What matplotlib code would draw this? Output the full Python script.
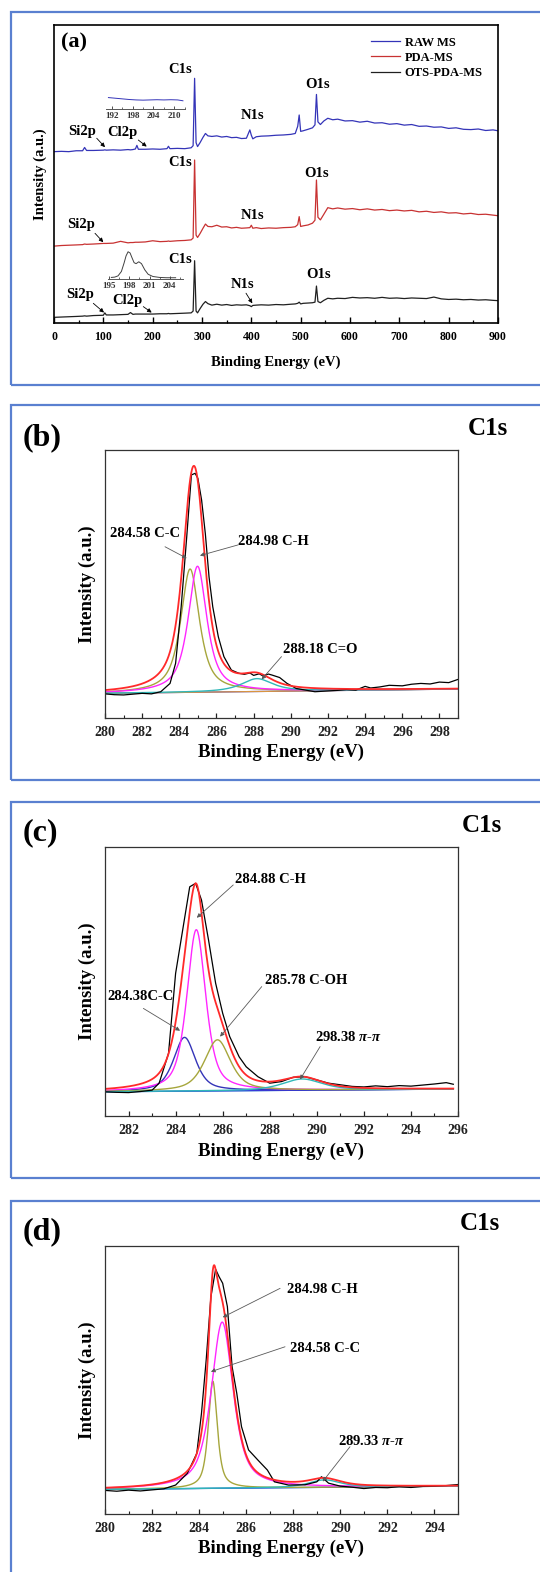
import numpy as np
import matplotlib
matplotlib.use('Agg')
import matplotlib.pyplot as plt
from matplotlib.patches import Rectangle
from matplotlib.ticker import MultipleLocator

plt.rcParams['font.family'] = ['Liberation Serif', 'DejaVu Serif']
plt.rcParams['font.weight'] = 'bold'
plt.rcParams['mathtext.fontset'] = 'custom'
plt.rcParams['mathtext.rm'] = 'Liberation Serif:bold'
plt.rcParams['mathtext.it'] = 'Liberation Serif:italic:bold'

W, H = 540, 1572

# ---------------------------------------------------------------- survey data
SURVEY_EV = [
    0, 15, 30, 45, 58, 62, 66, 80, 100, 103,
    106, 120, 135, 150, 155, 160, 165, 168, 171, 185,
    200, 215, 229, 232, 235, 250, 265, 278, 282, 285,
    288, 291, 296, 302, 307, 312, 320, 330, 340, 350,
    360, 370, 380, 390, 397, 400, 403, 410, 420, 435,
    450, 465, 480, 489, 494, 497, 500, 505, 515, 524,
    529, 532, 535, 540, 547, 555, 565, 575, 590, 605,
    620, 635, 650, 665, 680, 695, 710, 725, 740, 755,
    770, 785, 800, 815, 830, 845, 860, 875, 890, 900]

RAW_MS = [
    57.5, 57.6, 57.5, 57.8, 57.8, 58.9, 57.9, 57.9, 58.0, 58.1,
    58.0, 58.1, 58.0, 58.2, 58.1, 58.2, 58.4, 59.6, 58.3, 58.3,
    58.4, 58.3, 58.5, 59.3, 58.5, 58.6, 58.5, 58.8, 59.5, 82.1,
    60.5, 59.2, 60.5, 62.3, 63.6, 62.8, 62.6, 62.8, 62.4, 62.6,
    62.2, 62.3, 61.9, 62.0, 64.8, 63.0, 61.8, 62.5, 62.7, 62.8,
    63.0, 63.1, 63.3, 63.6, 66.0, 69.8, 64.3, 64.5, 65.0, 65.5,
    66.5, 76.7, 67.5, 66.6, 67.8, 68.7, 68.2, 68.4, 67.8, 67.9,
    67.4, 67.7, 67.1, 67.2, 66.7, 66.9, 66.4, 66.6, 66.0, 66.1,
    65.7, 65.8, 65.3, 65.5, 65.0, 64.9, 65.1, 64.6, 64.8, 64.5]

PDA_MS = [
    25.8, 26.0, 26.1, 26.2, 26.3, 26.5, 26.4, 26.5, 26.7, 26.7,
    26.7, 26.8, 27.4, 26.9, 27.0, 27.0, 27.1, 27.1, 27.1, 27.2,
    27.6, 27.3, 27.4, 27.5, 27.4, 27.6, 27.7, 27.9, 28.5, 54.7,
    29.5, 28.7, 30.0, 31.8, 33.2, 32.4, 32.3, 32.8, 32.2, 32.3,
    31.9, 32.1, 31.8, 31.9, 32.0, 32.8, 31.8, 32.0, 31.7, 31.9,
    31.8, 32.0, 32.1, 32.3, 33.0, 35.7, 32.4, 32.6, 32.9, 33.5,
    34.5, 48.0, 35.5, 34.6, 36.5, 38.7, 38.3, 38.6, 38.2, 38.4,
    38.0, 38.3, 37.9, 38.1, 37.7, 37.9, 37.6, 37.8, 37.3, 37.5,
    37.1, 37.3, 36.9, 37.0, 36.6, 36.8, 36.4, 36.5, 36.2, 36.0]

OTS_PDA_MS = [
    1.9, 2.0, 2.1, 2.2, 2.3, 2.4, 2.3, 2.5, 2.6, 3.4,
    2.7, 2.7, 2.8, 2.9, 3.5, 2.9, 3.0, 3.0, 3.0, 3.0,
    3.0, 3.1, 3.1, 3.2, 3.1, 3.2, 3.3, 3.4, 4.0, 20.9,
    4.0, 3.4, 4.8, 6.3, 7.2, 6.5, 6.0, 6.3, 6.0, 6.2,
    5.9, 6.1, 6.0, 6.1, 5.8, 5.5, 5.9, 6.0, 6.1, 6.0,
    6.2, 6.1, 6.3, 6.4, 6.6, 7.0, 6.4, 6.6, 6.7, 6.8,
    7.0, 12.4, 7.2, 6.8, 7.6, 8.3, 8.1, 8.3, 8.2, 8.6,
    8.4, 8.5, 8.3, 8.6, 8.3, 8.4, 8.2, 8.4, 8.3, 8.2,
    8.7, 8.1, 7.9, 8.0, 7.8, 7.9, 7.7, 7.8, 7.6, 7.5]

# Cl 2p insets
CL_RAW_EV = [191.0, 193.0, 195.0, 197.0, 199.0, 201.0, 203.0, 205.0,
             207.0, 209.0, 211.0, 212.5]
CL_RAW_I = [0.55, 0.52, 0.49, 0.46, 0.44, 0.43, 0.44, 0.45,
            0.44, 0.45, 0.44, 0.40]
CL_OTS_EV = [195.3, 195.8, 196.3, 196.8, 197.2, 197.5, 197.8, 198.1,
             198.4, 198.7, 199.0, 199.4, 199.8, 200.3, 200.8, 201.5,
             202.5, 203.5, 204.9]
CL_OTS_I = [0.06, 0.07, 0.11, 0.25, 0.52, 0.75, 0.88, 0.84,
            0.68, 0.53, 0.50, 0.56, 0.50, 0.30, 0.16, 0.09,
            0.06, 0.05, 0.05]

# ------------------------------------------------------------ C1s, panel (b)
B_EV = [280, 280.5, 281, 281.5, 282, 282.5, 283, 283.5, 283.8, 284.1,
        284.4, 284.65, 284.85, 285.0, 285.2, 285.4, 285.6, 285.8, 286.1,
        286.4, 286.8, 287.2, 287.5, 287.8, 288.0, 288.3, 288.5, 288.8,
        289.0, 289.4, 289.8, 290.3, 290.8, 291.3, 292, 292.5, 293, 293.5,
        294, 294.3, 294.8, 295.3, 296, 296.5, 297, 297.5, 298, 298.5, 299]
B_RAW = [9.0, 8.7, 8.6, 8.9, 9.2, 9.0, 9.8, 12.9, 20.4, 41.5,
         67.7, 90.7, 91.3, 89.4, 81.3, 68.8, 52.6, 41.5, 30.3, 22.9,
         17.9, 16.7, 16.3, 16.8, 15.9, 16.5, 15.7, 16.4, 16.0, 15.1,
         12.9, 11.0, 10.4, 9.8, 10.1, 10.3, 10.6, 10.4, 11.8, 11.2,
         11.6, 12.2, 12.0, 12.6, 12.9, 12.7, 13.4, 13.2, 14.4]
B_BG = [9.2, 10.8]
B_CENTER = [284.58, 284.98, 288.18]
B_HEIGHT = [46.0, 47.0, 4.8]
B_FWHM = [1.2, 1.2, 2.0]

# ------------------------------------------------------------ C1s, panel (c)
C_EV = [281, 281.5, 282, 282.5, 283, 283.3, 283.7, 284.0, 284.3, 284.6,
        284.85, 285.1, 285.4, 285.7, 286.0, 286.3, 286.7, 287.0, 287.5,
        288.0, 288.5, 289.0, 289.5, 290.0, 290.5, 291.0, 291.5, 292,
        292.5, 293, 293.5, 294, 294.5, 295, 295.5, 295.8]
C_RAW = [9.0, 8.8, 8.7, 9.1, 9.6, 12.2, 23.3, 53.0, 69.1, 85.2,
         86.5, 80.3, 65.4, 49.4, 38.2, 29.5, 22.0, 18.3, 14.6, 12.2,
         12.8, 14.4, 14.6, 13.4, 12.2, 11.6, 11.0, 10.8, 11.2, 10.9,
         11.3, 11.1, 11.5, 11.9, 12.4, 11.8]
C_BG = [9.0, 10.0]
C_CENTER = [284.38, 284.88, 285.78, 289.38]
C_HEIGHT = [20.0, 60.0, 19.0, 4.2]
C_FWHM = [1.1, 0.95, 1.3, 2.0]

# ------------------------------------------------------------ C1s, panel (d)
D_EV = [280, 280.5, 281, 281.5, 282, 282.5, 283, 283.5, 283.9, 284.1,
        284.3, 284.5, 284.7, 284.85, 285.0, 285.2, 285.4, 285.6, 285.8,
        286.1, 286.5, 286.9, 287.2, 287.8, 288.5, 289.0, 289.2, 289.5,
        290, 290.5, 291, 291.5, 292, 292.5, 293, 293.5, 294, 294.5, 295]
D_RAW = [8.8, 8.5, 8.9, 8.6, 9.0, 9.4, 10.8, 15.2, 22.6, 37.6,
         57.5, 81.0, 91.3, 88.5, 86.1, 77.4, 55.0, 45.0, 32.6, 23.9,
         20.1, 16.4, 12.0, 10.8, 10.9, 12.0, 13.9, 11.5, 10.4, 10.0,
         9.5, 9.9, 9.8, 10.2, 9.9, 10.3, 10.4, 10.6, 11.0]
D_BG = [9.2, 10.4]
D_CENTER = [284.58, 284.98, 289.33]
D_HEIGHT = [40.0, 62.0, 2.8]
D_FWHM = [0.45, 1.1, 1.6]

RED = '#ff2a2a'
MAGENTA = '#ff26ff'
OLIVE = '#a6a63c'
TEAL = '#30b8b8'
NAVY = '#3434b8'
BASE_BLUE = '#3b3be6'
ORANGE = '#d99540'
ARROW = dict(arrowstyle='-|>', color='0.35', lw=0.6, mutation_scale=6,
             shrinkA=0, shrinkB=0)


def px_axes(fig, left, top, right, bottom):
    return fig.add_axes([left / W, 1 - bottom / H,
                         (right - left) / W, (bottom - top) / H])


def pseudo_voigt(x, center, height, fwhm, eta=0.7):
    u = 4.0 * ((x - center) / fwhm) ** 2
    return height * (eta / (1.0 + u) + (1.0 - eta) * np.exp(-np.log(2) * u))


def style_fit_axes(ax, xmin, xmax, ymax=100):
    ax.set_xlim(xmin, xmax)
    ax.set_ylim(0, ymax)
    ax.xaxis.set_major_locator(MultipleLocator(2))
    ax.xaxis.set_minor_locator(MultipleLocator(1))
    ax.tick_params(axis='x', which='both', direction='in', labelsize=10,
                   pad=6, colors='#222222')
    ax.tick_params(axis='x', which='major', length=3.5, width=0.9)
    ax.tick_params(axis='x', which='minor', length=2, width=0.8)
    ax.tick_params(axis='y', left=False, labelleft=False)
    for sp in ax.spines.values():
        sp.set_color('#333333')
        sp.set_linewidth(0.9)
    ax.set_xlabel('Binding Energy (eV)', fontsize=13.5, fontweight='bold')
    ax.set_ylabel('Intensity (a.u.)', fontsize=13.5, fontweight='bold')
    ax.xaxis.set_label_coords(0.5, -0.13)
    ax.xaxis.label.set_va('center')
    ax.yaxis.set_label_coords(-0.05, 0.5)
    ax.yaxis.label.set_va('center')


def draw_fit(ax, ev, raw, bg, centers, heights, fwhms, colors, eta,
             bg_colors):
    x = np.linspace(ev[0], ev[-1], 800)
    base = np.interp(x, [ev[0], ev[-1]], bg)
    comps = [pseudo_voigt(x, c, h, w, eta)
             for c, h, w in zip(centers, heights, fwhms)]
    for col in bg_colors:
        ax.plot(x, base, color=col, lw=0.9)
    for comp, col in zip(comps, colors):
        ax.plot(x, base + comp, color=col, lw=1.0)
    ax.plot(ev, raw, color='black', lw=0.9)
    ax.plot(x, base + np.sum(comps, axis=0), color=RED, lw=1.3)


def panel_box(fig, top, bottom):
    fig.add_artist(Rectangle((11 / W, 1 - bottom / H), (560 - 11) / W,
                             (bottom - top) / H, transform=fig.transFigure,
                             fill=False, ec='#5a80d0', lw=1.6))


def main():
    fig = plt.figure(figsize=(W / 100, H / 100), dpi=100)

    for top, bottom in [(12, 385), (405, 780), (802, 1178), (1201, 1600)]:
        panel_box(fig, top, bottom)

    # ------------------------------------------------------------ survey
    ax = px_axes(fig, 54, 25, 498, 323)
    ax.plot(SURVEY_EV, RAW_MS, color=NAVY, lw=0.9, label='RAW MS')
    ax.plot(SURVEY_EV, PDA_MS, color='#c83232', lw=0.9, label='PDA-MS')
    ax.plot(SURVEY_EV, OTS_PDA_MS, color='#202020', lw=0.9,
            label='OTS-PDA-MS')
    ax.set_xlim(0, 900)
    ax.set_ylim(0, 100)
    ax.xaxis.set_major_locator(MultipleLocator(100))
    ax.xaxis.set_minor_locator(MultipleLocator(50))
    ax.tick_params(axis='x', which='both', direction='in', labelsize=8.5,
                   pad=6)
    ax.tick_params(axis='x', which='major', length=4, width=1.0)
    ax.tick_params(axis='x', which='minor', length=2.5, width=0.9)
    ax.tick_params(axis='y', left=False, labelleft=False)
    for sp in ax.spines.values():
        sp.set_linewidth(1.2)
    ax.set_xlabel('Binding Energy (eV)', fontsize=10.5, fontweight='bold')
    ax.set_ylabel('Intensity (a.u.)', fontsize=10.5, fontweight='bold')
    ax.xaxis.set_label_coords(0.5, -0.133)
    ax.xaxis.label.set_va('center')
    ax.yaxis.set_label_coords(-0.03, 0.5)
    ax.yaxis.label.set_va('center')
    ax.legend(loc='upper right', bbox_to_anchor=(0.985, 0.99),
              frameon=False, fontsize=9, handlelength=2.3,
              handletextpad=0.4, labelspacing=0.25, borderpad=0.2)
    ax.text(0.015, 0.94, '(a)', transform=ax.transAxes, fontsize=16,
            va='center', ha='left')

    peak_labels = [
        ('C1s', 255, 84.9), ('O1s', 534, 80.1), ('N1s', 402, 69.5),
        ('C1s', 255, 53.8), ('O1s', 532, 50.2), ('N1s', 402, 36.2),
        ('C1s', 255, 21.4), ('O1s', 536, 16.4)]
    for txt, xv, yv in peak_labels:
        ax.text(xv, yv, txt, fontsize=10.5, ha='center', va='center')

    arrow_labels = [
        ('Si2p', 58, 64.2, (86.6, 62.0), (103.4, 59.0)),
        ('Cl2p', 139, 63.9, (170.9, 61.4), (187.9, 59.2)),
        ('Si2p', 54, 33.2, (83.1, 30.1), (99.9, 27.1)),
        ('N1s', 382, 12.8, (389.2, 10.0), (402.0, 6.6)),
        ('Si2p', 53, 9.7, (79.7, 6.6), (101.4, 3.5)),
        ('Cl2p', 149, 7.7, (181.0, 5.5), (198.0, 3.5))]
    for txt, xv, yv, tail, tip in arrow_labels:
        ax.text(xv, yv, txt, fontsize=10.5, ha='center', va='center')
        ax.annotate('', xy=tip, xytext=tail,
                    arrowprops=dict(arrowstyle='-|>', color='black',
                                    lw=0.6, mutation_scale=6,
                                    shrinkA=0, shrinkB=0))

    # Cl 2p insets
    for (left, right, top, bottom, ev, inten, lo, hi, step, col) in [
            (106, 185, 88, 109.3, CL_RAW_EV, CL_RAW_I, 190.3, 213.1, 6,
             NAVY),
            (108, 183, 248, 279.3, CL_OTS_EV, CL_OTS_I, 194.8, 206.0, 3,
             '#404040')]:
        ins = px_axes(fig, left, top, right, bottom)
        ins.plot(ev, inten, color=col, lw=0.7)
        ins.set_xlim(lo, hi)
        ins.set_ylim(0, 1)
        ins.patch.set_alpha(0)
        for name in ('top', 'left', 'right'):
            ins.spines[name].set_visible(False)
        ins.spines['bottom'].set_color('#555555')
        ins.spines['bottom'].set_linewidth(0.7)
        ins.xaxis.set_major_locator(MultipleLocator(step))
        ins.xaxis.set_minor_locator(MultipleLocator(step / 2))
        ins.tick_params(axis='x', which='both', direction='in',
                        labelsize=6.5, pad=2, colors='#333333')
        ins.tick_params(axis='x', which='major', length=2, width=0.6)
        ins.tick_params(axis='x', which='minor', length=1.2, width=0.5)
        ins.tick_params(axis='y', left=False, labelleft=False)

    # ------------------------------------------------------------ panel (b)
    ax = px_axes(fig, 105, 450, 458, 718)
    draw_fit(ax, B_EV, B_RAW, B_BG, B_CENTER, B_HEIGHT, B_FWHM,
             [OLIVE, MAGENTA, TEAL], 0.8, [BASE_BLUE, ORANGE])
    style_fit_axes(ax, 280, 299)
    notes = [('284.58 C-C', 280.27, 68.7, (283.23, 63.9), (284.4, 59.6)),
             ('284.98 C-H', 287.17, 65.8, (287.17, 64.6), (285.11, 60.6)),
             ('288.18 C=O', 289.6, 25.7, (289.5, 22.9), (288.43, 14.4))]
    for txt, xv, yv, tail, tip in notes:
        ax.text(xv, yv, txt, fontsize=10.5, ha='left', va='center')
        ax.annotate('', xy=tip, xytext=tail, arrowprops=ARROW)
    fig.text(22.7 / W, 1 - 438 / H, '(b)', fontsize=23, va='center')
    fig.text(508 / W, 1 - 429 / H, 'C1s', fontsize=18, va='center',
             ha='right')

    # ------------------------------------------------------------ panel (c)
    ax = px_axes(fig, 105, 847, 458, 1116)
    draw_fit(ax, C_EV, C_RAW, C_BG, C_CENTER, C_HEIGHT, C_FWHM,
             [NAVY, MAGENTA, OLIVE, TEAL], 0.6, [TEAL, BASE_BLUE])
    style_fit_axes(ax, 281, 296)
    notes = [('284.88 C-H', 286.52, 88.0, (286.45, 85.9), (284.9, 73.7)),
             ('285.78 C-OH', 287.8, 50.3, (287.66, 48.1), (285.89, 29.5)),
             ('284.38C-C', 281.1, 44.3, (282.63, 40.0), (284.19, 31.7)),
             (r'298.38 $\pi$-$\pi$', 289.92, 29.3, (290.14, 25.8),
              (289.29, 13.6))]
    for txt, xv, yv, tail, tip in notes:
        ax.text(xv, yv, txt, fontsize=10.5, ha='left', va='center')
        ax.annotate('', xy=tip, xytext=tail, arrowprops=ARROW)
    fig.text(22.7 / W, 1 - 833 / H, '(c)', fontsize=23, va='center')
    fig.text(502 / W, 1 - 826 / H, 'C1s', fontsize=18, va='center',
             ha='right')

    # ------------------------------------------------------------ panel (d)
    ax = px_axes(fig, 105, 1246, 458, 1514)
    draw_fit(ax, D_EV, D_RAW, D_BG, D_CENTER, D_HEIGHT, D_FWHM,
             [OLIVE, MAGENTA, TEAL], 0.7, [TEAL, BASE_BLUE])
    style_fit_axes(ax, 280, 295)
    notes = [('284.98 C-H', 287.72, 83.8, (287.44, 84.2), (285.0, 73.4)),
             ('284.58 C-C', 287.86, 61.8, (287.65, 62.4), (284.5, 53.1)),
             (r'289.33 $\pi$-$\pi$', 289.92, 27.2, (290.41, 25.1),
              (289.25, 12.1))]
    for txt, xv, yv, tail, tip in notes:
        ax.text(xv, yv, txt, fontsize=10.5, ha='left', va='center')
        ax.annotate('', xy=tip, xytext=tail, arrowprops=ARROW)
    fig.text(22.7 / W, 1 - 1231.7 / H, '(d)', fontsize=23, va='center')
    fig.text(500 / W, 1 - 1223 / H, 'C1s', fontsize=18, va='center',
             ha='right')

    fig.savefig('out.png', dpi=100)
    plt.close(fig)


if __name__ == '__main__':
    main()
